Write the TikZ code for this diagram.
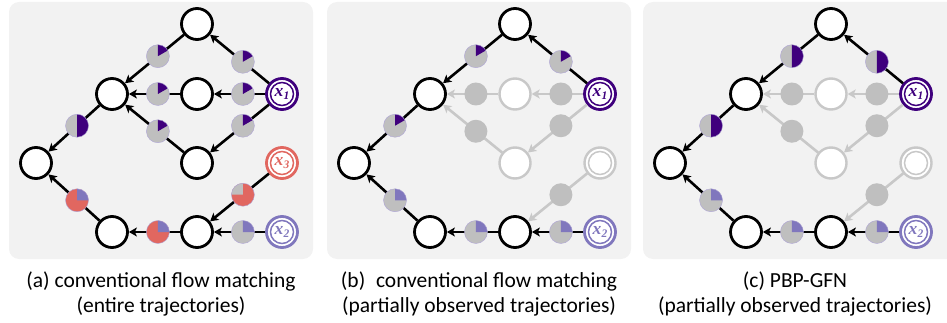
\documentclass[tikz,border=0pt]{standalone}
\usepackage[no-math]{fontspec}
\setmainfont{Carlito}
\newfontfamily\labelfont{Liberation Serif}
\usetikzlibrary{arrows.meta,calc}

\definecolor{panelbg}{RGB}{242,242,242}
\definecolor{dkpurple}{RGB}{63,0,125}
\definecolor{ltpurple}{RGB}{128,119,189}
\definecolor{statered}{RGB}{225,103,96}
\definecolor{piegray}{RGB}{191,191,191}
\definecolor{fadegray}{RGB}{200,200,200}
\definecolor{pieedge}{RGB}{175,165,215}

% bold italic state name with a lowered index
\newcommand\statename[1]{x\kern0.3pt{\fontsize{11.5}{11.5}\selectfont\raisebox{-3pt}{#1}}}

\tikzset{
  panel/.style={fill=panelbg, rounded corners=10pt},
  state/.style={circle, draw=black, line width=2.8pt, fill=white,
    minimum size=31pt, inner sep=0pt},
  fadestate/.style={state, draw=fadegray, line width=2.4pt},
  goal/.style={state, draw=#1, text=#1,
    font=\labelfont\bfseries\itshape\fontsize{17.5}{17.5}\selectfont,
    path picture={\draw[#1, line width=1.5pt]
      (path picture bounding box.center) circle (11.5pt);}},
  fadegoal/.style={state, draw=fadegray, line width=2.4pt,
    path picture={\draw[fadegray, line width=1.5pt]
      (path picture bounding box.center) circle (11.5pt);}},
  edge/.style={draw=black, line width=2.6pt,
    -{Stealth[length=8pt, width=9pt, inset=2pt]}},
  fadeedge/.style={edge, draw=fadegray},
  piechart/.style n args={3}{circle, minimum size=23pt, inner sep=0pt,
    fill=#1, draw=pieedge, line width=0.4pt,
    path picture={\fill[#2] (path picture bounding box.center) -- ++(90:13pt)
      arc[start angle=90, end angle=#3, radius=13pt] -- cycle;}},
  sixthpie/.style={piechart={piegray}{dkpurple}{30}},
  halfpie/.style={piechart={piegray}{dkpurple}{-90}},
  quarterpie/.style={piechart={piegray}{ltpurple}{0}},
  redgraypie/.style={piechart={statered}{piegray}{180}},
  redpurplepie/.style={piechart={statered}{ltpurple}{0}},
  fadepie/.style={circle, minimum size=23pt, inner sep=0pt, fill=piegray},
  caption/.style={anchor=north, align=center, inner sep=0pt,
    font=\fontsize{21.5}{25}\selectfont},
}

% states of one panel: #1 prefix, #2 style of the two side states,
% #3 style of the third goal state, #4 its label
\newcommand\placegraph[4]{%
  \node[state] (#1T) at (197,24) {};
  \node[state] (#1L) at (112,94) {};
  \node[#2] (#1M) at (197,94) {};
  \node[goal=dkpurple] (#1X) at (282,94) {\statename{1}};
  \node[#2] (#1B) at (197,163) {};
  \node[state] (#1E) at (36,163) {};
  \node[#3] (#1Y) at (282,163) {#4};
  \node[state] (#1P) at (112,232) {};
  \node[state] (#1Q) at (197,232) {};
  \node[goal=ltpurple] (#1Z) at (282,232) {\statename{2}};
}
% flow estimate on the edge from #2 to #3
\newcommand\flowpie[4]{\node[#4] (#1) at ($(#2)!0.46!(#3)$) {};}

\begin{document}
\begin{tikzpicture}[x=1pt, y=-1pt]
\useasboundingbox (0,0) rectangle (947,323);

% ---------------- (a) ----------------
\fill[panel] (9,2) rectangle (313,259);
\placegraph{a}{state}{goal=statered}{\statename{3}}
\draw[edge] (aX) -- (aT);
\draw[edge] (aT) -- (aL);
\draw[edge] (aX) -- (aM);
\draw[edge] (aM) -- (aL);
\draw[edge] (aX) -- (aB);
\draw[edge] (aB) -- (aL);
\draw[edge] (aL) -- (aE);
\draw[edge] (aY) -- (aQ);
\draw[edge] (aZ) -- (aQ);
\draw[edge] (aQ) -- (aP);
\draw[edge] (aP) -- (aE);
\flowpie{apXT}{aX}{aT}{sixthpie}
\flowpie{apTL}{aT}{aL}{sixthpie}
\flowpie{apXM}{aX}{aM}{sixthpie}
\flowpie{apML}{aM}{aL}{sixthpie}
\flowpie{apXB}{aX}{aB}{sixthpie}
\flowpie{apBL}{aB}{aL}{sixthpie}
\flowpie{apLE}{aL}{aE}{halfpie}
\flowpie{apYQ}{aY}{aQ}{redgraypie}
\flowpie{apZQ}{aZ}{aQ}{quarterpie}
\flowpie{apQP}{aQ}{aP}{redpurplepie}
\flowpie{apPE}{aP}{aE}{redpurplepie}
\node[caption] (capa) at (161,272)
  {(a) conventional flow matching\\(entire trajectories)};

% ---------------- (b) ----------------
\fill[panel] (327,2) rectangle (631,259);
\begin{scope}[xshift=318]
\placegraph{b}{fadestate}{fadegoal}{}
\draw[fadeedge] (bX) -- (bM);
\draw[fadeedge] (bM) -- (bL);
\draw[fadeedge] (bX) -- (bB);
\draw[fadeedge] (bB) -- (bL);
\draw[fadeedge] (bY) -- (bQ);
\draw[edge] (bX) -- (bT);
\draw[edge] (bT) -- (bL);
\draw[edge] (bL) -- (bE);
\draw[edge] (bZ) -- (bQ);
\draw[edge] (bQ) -- (bP);
\draw[edge] (bP) -- (bE);
\flowpie{bpXM}{bX}{bM}{fadepie}
\flowpie{bpML}{bM}{bL}{fadepie}
\flowpie{bpXB}{bX}{bB}{fadepie}
\flowpie{bpBL}{bB}{bL}{fadepie}
\flowpie{bpYQ}{bY}{bQ}{fadepie}
\flowpie{bpXT}{bX}{bT}{sixthpie}
\flowpie{bpTL}{bT}{bL}{sixthpie}
\flowpie{bpLE}{bL}{bE}{sixthpie}
\flowpie{bpZQ}{bZ}{bQ}{quarterpie}
\flowpie{bpQP}{bQ}{bP}{quarterpie}
\flowpie{bpPE}{bP}{bE}{quarterpie}
\end{scope}
\node[caption] (capb) at (479,272)
  {(b)\hspace{0.5em}conventional flow matching\\(partially observed trajectories)};

% ---------------- (c) ----------------
\fill[panel] (643,2) rectangle (957,259);
\begin{scope}[xshift=634]
\placegraph{c}{fadestate}{fadegoal}{}
\draw[fadeedge] (cX) -- (cM);
\draw[fadeedge] (cM) -- (cL);
\draw[fadeedge] (cX) -- (cB);
\draw[fadeedge] (cB) -- (cL);
\draw[fadeedge] (cY) -- (cQ);
\draw[edge] (cX) -- (cT);
\draw[edge] (cT) -- (cL);
\draw[edge] (cL) -- (cE);
\draw[edge] (cZ) -- (cQ);
\draw[edge] (cQ) -- (cP);
\draw[edge] (cP) -- (cE);
\flowpie{cpXM}{cX}{cM}{fadepie}
\flowpie{cpML}{cM}{cL}{fadepie}
\flowpie{cpXB}{cX}{cB}{fadepie}
\flowpie{cpBL}{cB}{cL}{fadepie}
\flowpie{cpYQ}{cY}{cQ}{fadepie}
\flowpie{cpXT}{cX}{cT}{halfpie}
\flowpie{cpTL}{cT}{cL}{halfpie}
\flowpie{cpLE}{cL}{cE}{halfpie}
\flowpie{cpZQ}{cZ}{cQ}{quarterpie}
\flowpie{cpQP}{cQ}{cP}{quarterpie}
\flowpie{cpPE}{cP}{cE}{quarterpie}
\end{scope}
\node[caption] (capc) at (795,272)
  {(c) PBP-GFN\\(partially observed trajectories)};
\end{tikzpicture}
\end{document}
